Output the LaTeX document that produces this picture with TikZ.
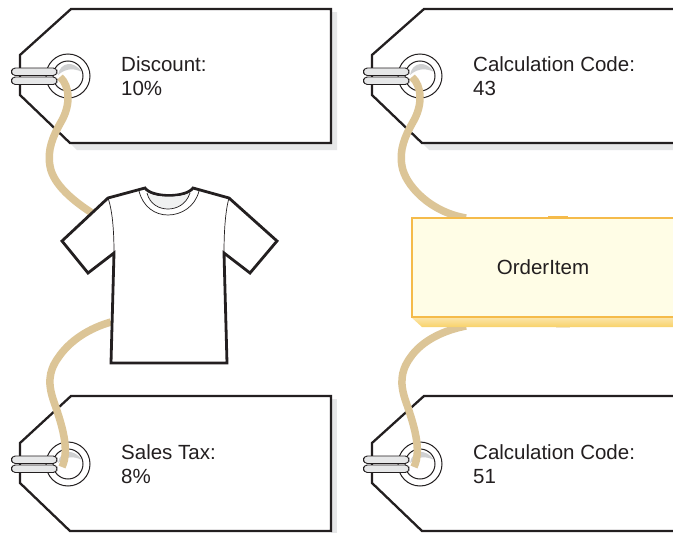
\documentclass[tikz,border=0pt]{standalone}
\usepackage{fontspec}
\setmainfont{Liberation Sans}
\definecolor{ink}{HTML}{231F20}
\definecolor{rope}{HTML}{DCC597}
\definecolor{greyshade}{HTML}{E6E7E8}
\definecolor{boxfill}{HTML}{FFFDE6}
\definecolor{boxline}{HTML}{F5BB4A}
\definecolor{boxlow}{HTML}{F8D26A}
\tikzset{
  x=1pt,y=-1pt,
  tagbody/.style={draw=ink,line width=2.3pt,fill=white,line join=miter},
  tagshadow/.style={fill=greyshade,draw=none},
  tagtext/.style={font=\fontsize{20.5}{24.5}\selectfont,text=ink,anchor=north west,align=left,inner sep=0pt},
  holeouter/.style={circle,draw=ink,line width=1pt,fill=white,minimum size=44pt,inner sep=0pt},
  holeinner/.style={circle,draw=ink,line width=1pt,fill=white,minimum size=30pt,inner sep=0pt},
  crescent/.style={fill=greyshade!90!black,draw=none},
  loopbar/.style={draw=ink,line width=.9pt,fill=greyshade,rounded corners=3.8pt},
  ropeline/.style={draw=rope,line width=7.5pt,line cap=butt},
  shirtline/.style={draw=ink,line width=2.8pt,line join=miter},
  shirtseam/.style={draw=ink,line width=.7pt},
}
\begin{document}
\begin{tikzpicture}
\useasboundingbox (0,0) rectangle (673,533);
\fill[white] (0,0) rectangle (673,533);
% ---- tag bodies
\path[tagshadow] (70,143) -- (77,150) -- (337,150) -- (337,12) -- (331,12) -- (331,143) -- cycle;
\draw[tagbody] (71,9) -- (331,9) -- (331,143) -- (70,143) -- (20,95) -- (20,55) -- cycle;
\path[tagshadow] (331,399) -- (337,399) -- (337,533) -- (331,533) -- cycle;
\draw[tagbody] (71,396) -- (331,396) -- (331,531) -- (70,531) -- (20,483) -- (20,443) -- cycle;
\path[tagshadow] (422,143) -- (429,150) -- (680,150) -- (680,143) -- cycle;
\draw[tagbody] (680,9) -- (424,9) -- (372,55) -- (372,95) -- (422,143) -- (680,143);
\draw[tagbody] (680,396) -- (424,396) -- (372,443) -- (372,483) -- (422,531) -- (680,531);
% ---- holes
\node[holeouter] (h1o) at (68,76) {};
\node[holeinner] (h1) at (68,76) {};
\node[holeouter] (h2o) at (420,76) {};
\node[holeinner] (h2) at (420,76) {};
\node[holeouter] (h3o) at (68,464) {};
\node[holeinner] (h3) at (68,464) {};
\node[holeouter] (h4o) at (420,464) {};
\node[holeinner] (h4) at (420,464) {};
% hole crescents
\foreach \cx/\cy in {68/76,420/76,68/464,420/464}{
  \path[crescent] (\cx-10,\cy-1) .. controls (\cx-8,\cy-14) and (\cx+6,\cy-16) .. (\cx+14,\cy-4) .. controls (\cx+6,\cy-8) and (\cx-2,\cy-8) .. (\cx-10,\cy-1) -- cycle;
}
% ---- end points of the strings
\coordinate (s1) at (92,213);
\coordinate (s2) at (111,322);
\coordinate (s3) at (466,218);
\coordinate (s4) at (466,326);
% ---- strings
\draw[ropeline] (60,77) .. controls (70,86) and (71,105) .. (61,122) .. controls (53,136) and (47,150) .. (50,166) .. controls (53,185) and (75,202) .. (s1);
\draw[ropeline] (62,467) .. controls (70,450) and (62,425) .. (54,402) .. controls (48,385) and (48,372) .. (58,358) .. controls (70,340) and (90,328) .. (s2);
\draw[ropeline] (412,77) .. controls (422,86) and (423,105) .. (413,122) .. controls (405,136) and (399,150) .. (402,166) .. controls (405,185) and (430,212) .. (s3);
\draw[ropeline] (414,467) .. controls (422,450) and (414,425) .. (406,402) .. controls (400,385) and (400,372) .. (410,358) .. controls (422,340) and (445,330) .. (s4);
% ---- loops
\foreach \cx/\cy in {0/68,352/68,0/456,352/456}{
  \draw[loopbar] (\cx+11.5,\cy) rectangle (\cx+57,\cy+7.5);
  \draw[loopbar] (\cx+11.5,\cy+9) rectangle (\cx+57,\cy+16.5);
}
% ---- shirt
\filldraw[shirtline,fill=white] (145,188) -- (108,198) -- (62,241) -- (88,273) -- (114,253) -- (111,363) -- (227,363) -- (224,253) -- (250,273) -- (277,241) -- (229,198) -- (193,188)
  .. controls (186,198) and (152,198) .. (145,188) -- cycle;
\fill[greyshade!60] (147,193) .. controls (155,198) and (182,198) .. (190,193) .. controls (186,205) and (176,209) .. (168,209) .. controls (160,209) and (150,205) .. (147,193) -- cycle;
\draw[shirtseam] (147,193) .. controls (150,205) and (160,209) .. (168,209) .. controls (176,209) and (186,205) .. (190,193);
\draw[shirtseam] (139,191) .. controls (143,207) and (155,215) .. (168,215) .. controls (181,215) and (195,207) .. (199,191);
\draw[shirtseam] (108,198) .. controls (113,212) and (114,235) .. (114,253);
\draw[shirtseam] (229,198) .. controls (225,212) and (224,235) .. (224,253);
% ---- box
\draw[boxline,line width=1pt] (548,216) -- (568,216);
\fill[rope!40] (556,327) rectangle (570,328);
\shade[top color=boxlow!55!white,bottom color=boxlow] (411,317) -- (680,317) -- (680,327) -- (422,327) -- cycle;
\filldraw[draw=boxline,line width=2pt,fill=boxfill] (412,217.5) rectangle (680,317);
\node[font=\fontsize{20.5}{24}\selectfont,text=ink] (box) at (543,267) {OrderItem};
% ---- texts
\node[tagtext] (t1) at (121,56) {Discount:\\10\%};
\node[tagtext] (t2) at (473,56) {Calculation Code:\\43};
\node[tagtext] (t3) at (121,444) {Sales Tax:\\8\%};
\node[tagtext] (t4) at (473,444) {Calculation Code:\\51};
\end{tikzpicture}
\end{document}
